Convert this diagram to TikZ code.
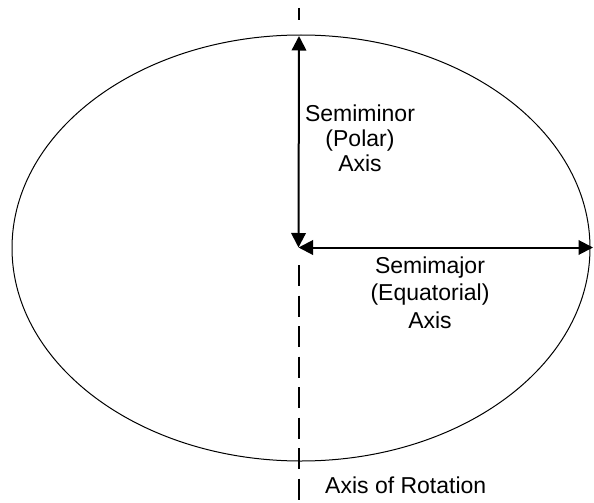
\documentclass[tikz,border=0pt]{standalone}
\usepackage{fontspec}
\setmainfont{Liberation Sans}
\usetikzlibrary{arrows.meta}
\begin{document}
\begin{tikzpicture}[x=1pt,y=-1pt,
  arr/.style={line width=2pt,{Triangle[length=14.5pt,width=14.5pt]}-{Triangle[length=14.5pt,width=14.5pt]}},
  axisline/.style={line width=2pt,dash pattern=on 21pt off 9.5pt},
  lbl/.style={align=center,inner sep=0pt}]
\useasboundingbox (0,0) rectangle (594,503);
\coordinate (c) at (298.5,247.5);
\coordinate (t) at (299,36);
\coordinate (r) at (593,247.5);
\coordinate (a1) at (299,8);
\coordinate (a2) at (299,20);
\coordinate (a3) at (299,265);
\coordinate (a4) at (299,503);
\draw[line width=1pt] (301,248) ellipse [x radius=289, y radius=213];
\draw[line width=2pt] (a1) -- (a2);
\draw[axisline] (a3) -- (a4);
\draw[arr] (c) -- (t);
\draw[arr] (c) -- (r);
\node[lbl,anchor=base,font=\fontsize{23}{25}\selectfont] (minor) at (360,171) {Semiminor\\(Polar)\\Axis};
\node[lbl,anchor=base,font=\fontsize{23}{27.5}\selectfont] (major) at (430,328) {Semimajor\\(Equatorial)\\Axis};
\node[lbl,anchor=base west,font=\fontsize{23}{25}\selectfont] (rot) at (325,493) {Axis of Rotation};
\end{tikzpicture}
\end{document}
